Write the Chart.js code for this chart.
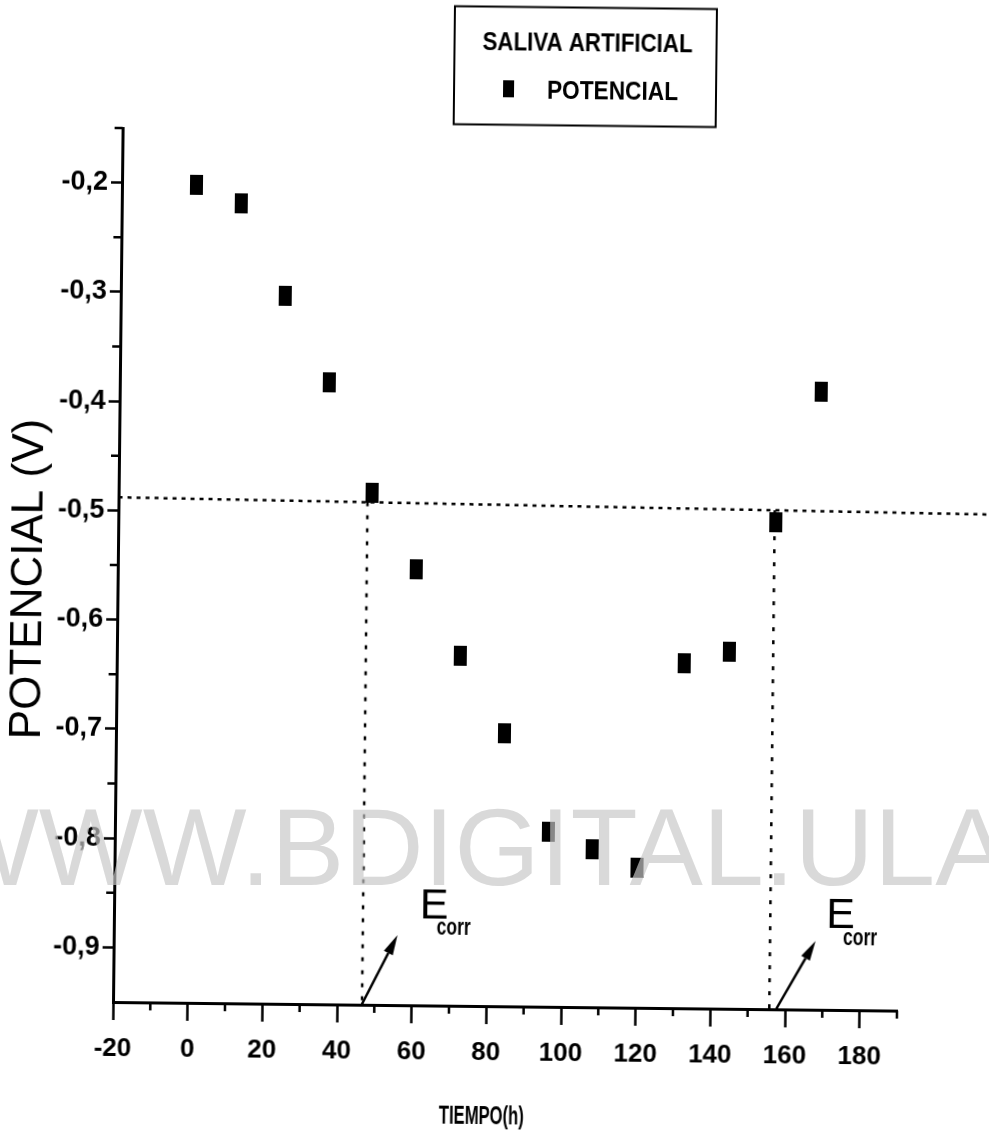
<!DOCTYPE html>
<html lang="es">
<head>
<meta charset="UTF-8">
<title>Saliva artificial - potencial vs tiempo</title>
<script src="https://cdn.jsdelivr.net/npm/chart.js"></script>
<style>
  html, body { margin: 0; padding: 0; background: #fff; overflow: hidden; }
  #wrap { position: relative; width: 989px; height: 1131px; overflow: hidden; }
  /* la hoja escaneada quedó un poco girada */
  #grafico { position: absolute; left: 0; top: 0; transform: rotate(0.63deg); transform-origin: 113px 1002px; }
  #marca { position: absolute; left: -65px; top: 792px; font: 110px "Liberation Sans", Arial, sans-serif;
           line-height: 110px; color: rgb(200,200,200); opacity: .68; white-space: nowrap; pointer-events: none; }
</style>
</head>
<body>
<div id="wrap">
  <canvas id="grafico" width="989" height="1131"></canvas>
  <div id="marca">WWW.BDIGITAL.ULA</div>
</div>

<script>
// datos: tiempo (h) y potencial (V)
const tiempo    = [0, 12, 24, 36, 48, 60, 72, 84, 96, 108, 120, 132, 144, 156, 168];
const potencial = [-0.201, -0.218, -0.302, -0.381, -0.481, -0.551, -0.630, -0.700,
                   -0.790, -0.805, -0.822, -0.634, -0.623, -0.504, -0.384];

// ejes
const ticksX   = [-20, 0, 20, 40, 60, 80, 100, 120, 140, 160, 180];
const menoresX = [-10, 10, 30, 50, 70, 90, 110, 130, 150, 170, 190];
const ticksY   = [-0.9, -0.8, -0.7, -0.6, -0.5, -0.4, -0.3, -0.2];
const menoresY = [-0.85, -0.75, -0.65, -0.55, -0.45, -0.35, -0.25, -0.15];

// linea punteada horizontal y cortes de Ecorr
const refX   = [-20, 213];
const refY   = [-0.488, -0.495];
const ecorrX = [46.7, 155.8];

// flechas (base -> punta) y rotulos E corr
const flechaBaseX  = [46.6, 157.6];
const flechaBaseY  = [-0.95, -0.95];
const flechaPuntaX = [56.0, 168.0];
const flechaPuntaY = [-0.886, -0.887];
const rotuloX = [61.9, 170.8];
const rotuloY = [-0.870, -0.875];

const FUENTE = '"Liberation Sans", Arial, sans-serif';

function refEn(x) {
  const t = (x - refX[0]) / (refX[1] - refX[0]);
  return refY[0] + t * (refY[1] - refY[0]);
}

// simbolo rectangular de los puntos
const simbolo = document.createElement('canvas');
simbolo.width = 13; simbolo.height = 20;
(function () {
  const c = simbolo.getContext('2d');
  c.fillStyle = '#000';
  c.fillRect(0, 0, 13, 20);
})();

// texto estrecho: se escala en x hasta el ancho pedido
function textoAncho(ctx, txt, x, y, font, ancho) {
  ctx.font = font;
  const w = ctx.measureText(txt).width;
  ctx.save();
  ctx.translate(x, y);
  ctx.scale(ancho / w, 1);
  ctx.textAlign = 'left';
  ctx.textBaseline = 'alphabetic';
  ctx.fillText(txt, 0, 0);
  ctx.restore();
}

const extras = {
  id: 'extras',
  afterDraw(chart) {
    const ctx = chart.ctx;
    const sx = chart.scales.x, sy = chart.scales.y;
    const a = chart.chartArea;
    ctx.save();
    ctx.strokeStyle = '#000';
    ctx.fillStyle = '#000';

    // marcas menores
    ctx.lineWidth = 2.5;
    ctx.beginPath();
    menoresX.forEach(v => {
      const px = sx.getPixelForValue(v);
      ctx.moveTo(px, a.bottom); ctx.lineTo(px, a.bottom + 8);
    });
    menoresY.forEach(v => {
      const py = sy.getPixelForValue(v);
      ctx.moveTo(a.left, py); ctx.lineTo(a.left - 8, py);
    });
    ctx.stroke();

    // flechas
    for (let i = 0; i < flechaBaseX.length; i++) {
      const x0 = sx.getPixelForValue(flechaBaseX[i]), y0 = sy.getPixelForValue(flechaBaseY[i]);
      const x1 = sx.getPixelForValue(flechaPuntaX[i]), y1 = sy.getPixelForValue(flechaPuntaY[i]);
      const ang = Math.atan2(y1 - y0, x1 - x0);
      const L = 20, W = 5;
      const bx = x1 - L * Math.cos(ang), by = y1 - L * Math.sin(ang);
      ctx.lineWidth = 2.5;
      ctx.beginPath(); ctx.moveTo(x0, y0); ctx.lineTo(bx, by); ctx.stroke();
      ctx.beginPath();
      ctx.moveTo(x1, y1);
      ctx.lineTo(bx + W * Math.sin(ang), by - W * Math.cos(ang));
      ctx.lineTo(bx - W * Math.sin(ang), by + W * Math.cos(ang));
      ctx.closePath(); ctx.fill();
    }

    // rotulos E corr
    for (let i = 0; i < rotuloX.length; i++) {
      const px = sx.getPixelForValue(rotuloX[i]), py = sy.getPixelForValue(rotuloY[i]);
      ctx.font = '43px ' + FUENTE;
      ctx.textAlign = 'left';
      ctx.textBaseline = 'alphabetic';
      ctx.fillText('E', px, py);
      textoAncho(ctx, 'corr', px + 17, py + 16.5, 'bold 23px ' + FUENTE, 34);
    }

    // titulos de los ejes
    textoAncho(ctx, 'TIEMPO(h)', 440, 1120, 'bold 25px ' + FUENTE, 85);
    ctx.save();
    ctx.translate(25, 580);
    ctx.rotate(-Math.PI / 2);
    ctx.font = '44px ' + FUENTE;
    ctx.textAlign = 'center';
    ctx.textBaseline = 'middle';
    ctx.fillText('POTENCIAL (V)', 0, 0);
    ctx.restore();

    // leyenda
    ctx.lineWidth = 2;
    ctx.strokeRect(444, 2.5, 262, 118);
    textoAncho(ctx, 'SALIVA ARTIFICIAL', 472, 46, 'bold 25px ' + FUENTE, 210);
    ctx.drawImage(simbolo, 493, 76, 11, 17);
    textoAncho(ctx, 'POTENCIAL', 537, 94, 'bold 26px ' + FUENTE, 131);

    ctx.restore();
  }
};

const puntos = tiempo.map((t, i) => ({ x: t, y: potencial[i] }));
const lineaRef = refX.map((x, i) => ({ x: x, y: refY[i] }));
const verticales = ecorrX.map(x => ({
  type: 'scatter',
  data: [{ x: x, y: refEn(x) }, { x: x, y: -0.95 }],
  showLine: true,
  borderColor: '#000',
  borderWidth: 2.5,
  borderDash: [4, 9],
  pointRadius: 0,
  clip: false
}));

new Chart(document.getElementById('grafico'), {
  type: 'scatter',
  data: {
    datasets: [
      {
        label: 'POTENCIAL',
        data: puntos,
        pointStyle: simbolo,
        pointRadius: 8,
        pointHoverRadius: 8,
        backgroundColor: '#000',
        borderColor: '#000'
      },
      {
        data: lineaRef,
        showLine: true,
        borderColor: '#000',
        borderWidth: 2.5,
        borderDash: [4, 5],
        pointRadius: 0,
        clip: false
      },
      ...verticales
    ]
  },
  options: {
    responsive: false,
    animation: false,
    events: [],
    layout: { padding: { top: 128, right: 92, left: 0, bottom: 0 } },
    plugins: { legend: { display: false }, tooltip: { enabled: false } },
    scales: {
      x: {
        type: 'linear',
        position: 'bottom',
        min: -20,
        max: 190,
        afterBuildTicks: s => { s.ticks = ticksX.map(v => ({ value: v })); },
        afterFit: s => { s.height = 129; },
        border: { display: true, color: '#000', width: 3 },
        grid: { drawOnChartArea: false, drawTicks: true, tickLength: 18, tickWidth: 2.5, tickColor: '#000' },
        ticks: {
          autoSkip: false, maxRotation: 0, padding: 13, color: '#000',
          font: { family: FUENTE, size: 26, weight: 'bold' },
          callback: v => String(v)
        }
      },
      y: {
        type: 'linear',
        position: 'left',
        min: -0.95,
        max: -0.15,
        afterBuildTicks: s => { s.ticks = ticksY.map(v => ({ value: v })); },
        afterFit: s => { s.width = 113; },
        border: { display: true, color: '#000', width: 3 },
        grid: { drawOnChartArea: false, drawTicks: true, tickLength: 11, tickWidth: 2.5, tickColor: '#000' },
        ticks: {
          autoSkip: false, padding: 3, color: '#000',
          font: { family: FUENTE, size: 27, weight: 'bold' },
          callback: v => v.toFixed(1).replace('.', ',')
        }
      }
    }
  },
  plugins: [extras]
});
</script>
</body>
</html>
